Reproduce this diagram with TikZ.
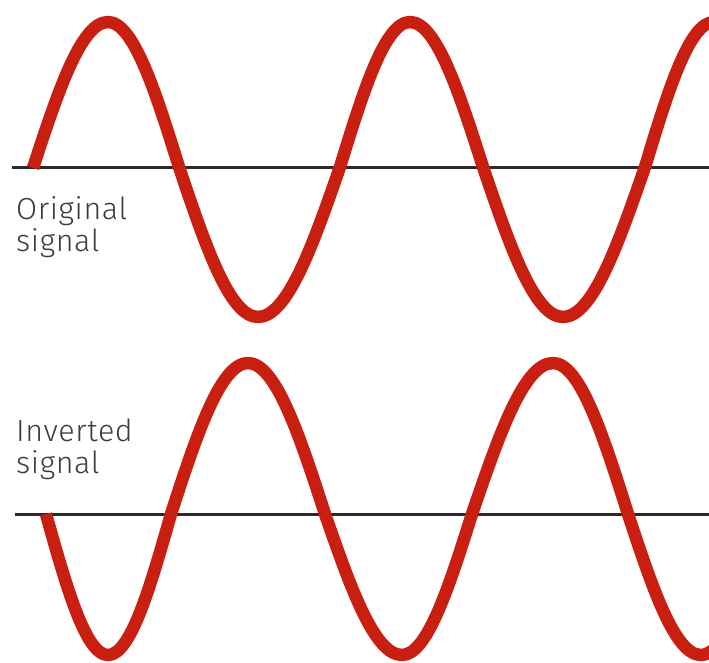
\documentclass[tikz,border=0pt]{standalone}
\usepackage{fontspec}
\setmainfont{Fira Sans Light}[LetterSpace=2]
\definecolor{WaveRed}{RGB}{201,31,16}
\definecolor{AxisGray}{RGB}{42,42,42}
\definecolor{LabelGray}{RGB}{60,60,60}
\begin{document}
\begin{tikzpicture}[x=1pt, y=-1pt,
    wave/.style={WaveRed, line width=12.5pt, line join=round},
    axisline/.style={AxisGray, line width=3pt},
    siglabel/.style={LabelGray, font=\fontsize{30.5}{32}\selectfont, align=left, inner sep=0pt, anchor=north west}]
    \useasboundingbox (0,0) rectangle (709,662);
    \clip (0,0) rectangle (709,662);
    % Axes
    \coordinate (topL) at (12,167);  \coordinate (topR) at (709,167);
    \coordinate (botL) at (15,514);  \coordinate (botR) at (709,514);
    \draw[axisline] (topL) -- (topR);
    \draw[axisline] (botL) -- (botR);
    % Original signal
    \draw[wave] (33,168) sin (108,22) cos (179,167) sin (258,317) cos (340,167)
        sin (410,22) cos (483,167) sin (563,317) cos (645,167) sin (714,22);
    % Inverted signal
    \draw[wave] (46,514) sin (108,655) cos (171,514) sin (248,363) cos (325,514)
        sin (402,655) cos (472,514) sin (553,363) cos (628,514) sin (701,655) cos (770,514);
    % Labels
    \node[siglabel] (origlabel) at (16,196) {Original\\signal};
    \node[siglabel] (invlabel) at (16,419) {Inverted\\signal};
\end{tikzpicture}
\end{document}
